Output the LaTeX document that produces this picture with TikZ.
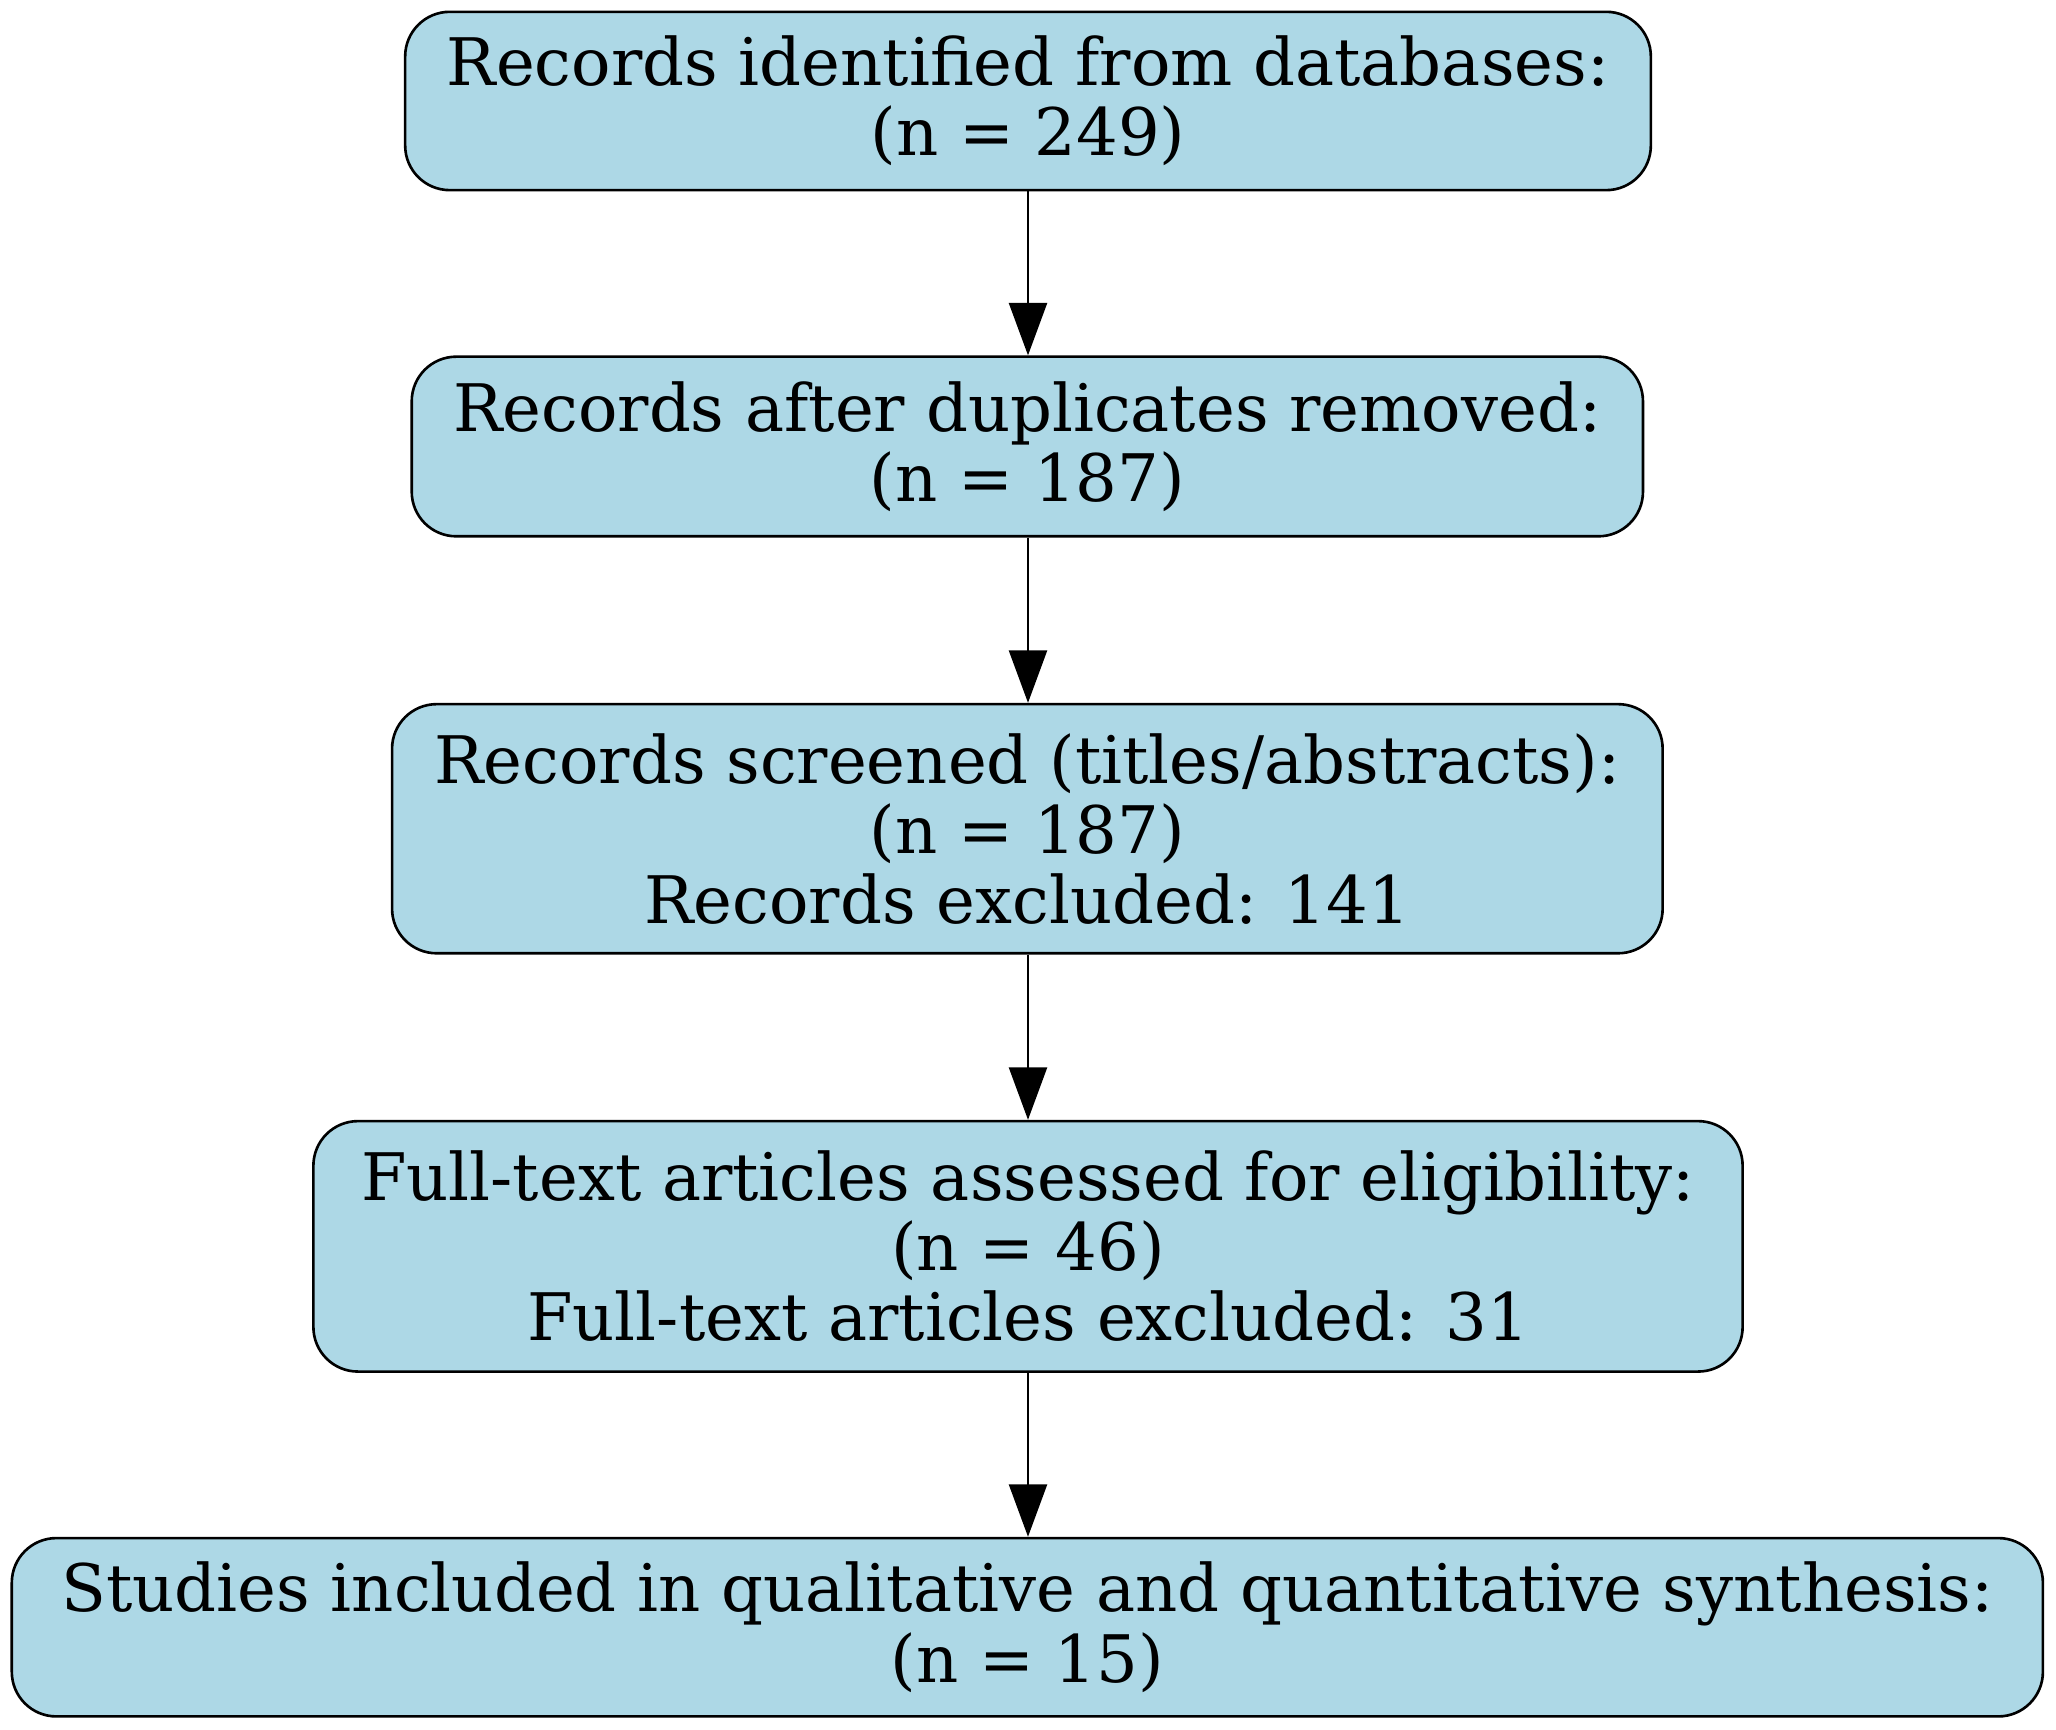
\documentclass[tikz,border=0pt]{standalone}
\usepackage{fontspec}
\setmainfont{DejaVu Serif}
\usetikzlibrary{arrows.meta,positioning}

\definecolor{boxblue}{HTML}{ADD8E6}

\begin{document}
\begin{tikzpicture}[
    >={Triangle[length=20pt,width=14.5pt]},
    step box/.style={rectangle,rounded corners=17pt,draw,line width=1pt,
      fill=boxblue,align=center,inner sep=0pt,
      font=\fontsize{25}{26.75}\selectfont},
    every edge/.style={draw,->,line width=0.9pt}
  ]
    \useasboundingbox (0pt,0pt) rectangle (784pt,-659.5pt);

    % PRISMA flow boxes
    \node[step box, minimum width=475pt, minimum height=68pt] (ident)
      at (392pt,-38.5pt) {Records identified from databases:\\(n = 249)};
    \node[step box, minimum width=469.5pt, minimum height=68.5pt] (dedup)
      at (391.75pt,-170.25pt) {Records after duplicates removed:\\(n = 187)};
    \node[step box, minimum width=484.5pt, minimum height=95pt] (screen)
      at (391.75pt,-316pt) {Records screened (titles/abstracts):\\(n = 187)\\Records excluded: 141};
    \node[step box, minimum width=545pt, minimum height=95.5pt] (full)
      at (392pt,-475.25pt) {Full-text articles assessed for eligibility:\\(n = 46)\\Full-text articles excluded: 31};
    \node[step box, minimum width=774.5pt, minimum height=68pt] (incl)
      at (391.75pt,-620.5pt) {Studies included in qualitative and quantitative synthesis:\\(n = 15)};

    \path (ident.south -| 392pt,0) edge (dedup.north -| 392pt,0)
          (dedup.south -| 392pt,0) edge (screen.north -| 392pt,0)
          (screen.south -| 392pt,0) edge (full.north -| 392pt,0)
          (full.south -| 392pt,0) edge (incl.north -| 392pt,0);
  \end{tikzpicture}
\end{document}
